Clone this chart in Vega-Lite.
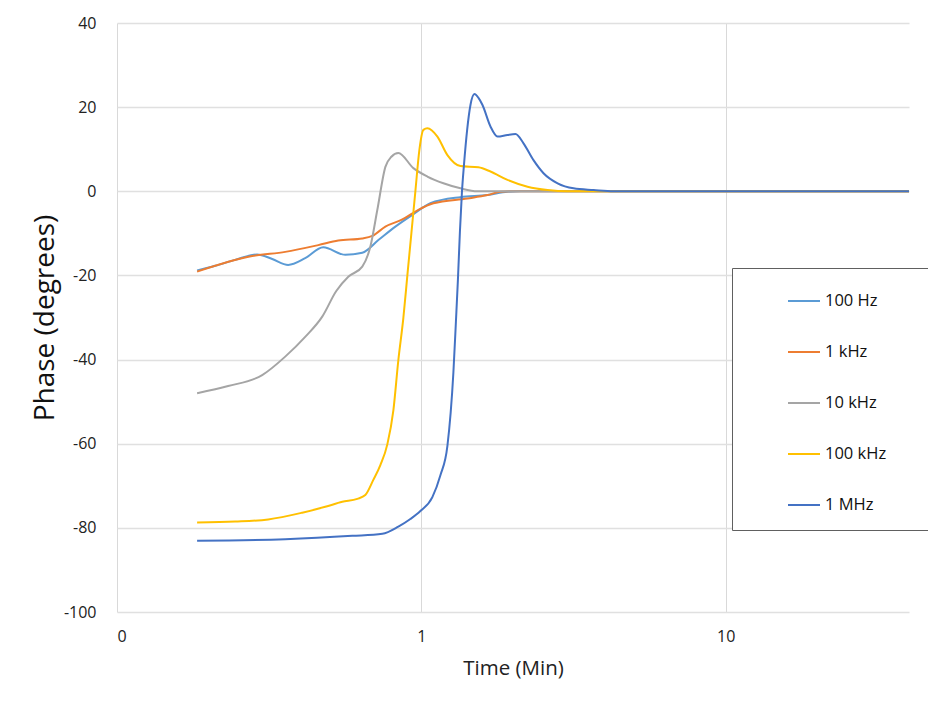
{
  "$schema": "https://vega.github.io/schema/vega-lite/v6.json",
  "width": 792,
  "height": 589,
  "autosize": {"type": "none"},
  "padding": {"left": 117, "top": 23, "right": 19, "bottom": 89},
  "background": "white",
  "config": {"view": {"stroke": null}, "font": "Open Sans"},
  "data": {"values": [
    {"f": "100 Hz", "t": 0.1833, "p": -18.8},
    {"f": "100 Hz", "t": 0.2101, "p": -17.7},
    {"f": "100 Hz", "t": 0.2445, "p": -16.3},
    {"f": "100 Hz", "t": 0.2887, "p": -15.0},
    {"f": "100 Hz", "t": 0.3236, "p": -16.1},
    {"f": "100 Hz", "t": 0.3651, "p": -17.5},
    {"f": "100 Hz", "t": 0.4152, "p": -15.9},
    {"f": "100 Hz", "t": 0.4760, "p": -13.3},
    {"f": "100 Hz", "t": 0.5623, "p": -15.1},
    {"f": "100 Hz", "t": 0.6395, "p": -14.6},
    {"f": "100 Hz", "t": 0.7222, "p": -11.6},
    {"f": "100 Hz", "t": 0.8214, "p": -8.4},
    {"f": "100 Hz", "t": 0.9341, "p": -5.6},
    {"f": "100 Hz", "t": 1.0705, "p": -2.85},
    {"f": "100 Hz", "t": 1.3438, "p": -1.4},
    {"f": "100 Hz", "t": 1.6489, "p": -0.9},
    {"f": "100 Hz", "t": 1.9183, "p": -0.1},
    {"f": "100 Hz", "t": 2.1168, "p": 0},
    {"f": "100 Hz", "t": 40, "p": 0},

    {"f": "1 kHz", "t": 0.1833, "p": -19.1},
    {"f": "1 kHz", "t": 0.2780, "p": -15.4},
    {"f": "1 kHz", "t": 0.3570, "p": -14.4},
    {"f": "1 kHz", "t": 0.4583, "p": -12.8},
    {"f": "1 kHz", "t": 0.5333, "p": -11.7},
    {"f": "1 kHz", "t": 0.6395, "p": -11.2},
    {"f": "1 kHz", "t": 0.6900, "p": -10.6},
    {"f": "1 kHz", "t": 0.7616, "p": -8.4},
    {"f": "1 kHz", "t": 0.8660, "p": -6.7},
    {"f": "1 kHz", "t": 0.9775, "p": -4.4},
    {"f": "1 kHz", "t": 1.0951, "p": -2.85},
    {"f": "1 kHz", "t": 1.4170, "p": -1.7},
    {"f": "1 kHz", "t": 1.6489, "p": -0.9},
    {"f": "1 kHz", "t": 1.8193, "p": -0.1},
    {"f": "1 kHz", "t": 1.9625, "p": 0},
    {"f": "1 kHz", "t": 40, "p": 0},

    {"f": "10 kHz", "t": 0.1833, "p": -48.0},
    {"f": "10 kHz", "t": 0.2318, "p": -46.3},
    {"f": "10 kHz", "t": 0.2999, "p": -43.7},
    {"f": "10 kHz", "t": 0.3570, "p": -39.3},
    {"f": "10 kHz", "t": 0.4152, "p": -34.6},
    {"f": "10 kHz", "t": 0.4724, "p": -29.8},
    {"f": "10 kHz", "t": 0.5253, "p": -23.7},
    {"f": "10 kHz", "t": 0.5753, "p": -20.3},
    {"f": "10 kHz", "t": 0.6395, "p": -17.9},
    {"f": "10 kHz", "t": 0.6796, "p": -13.2},
    {"f": "10 kHz", "t": 0.7167, "p": -4.4},
    {"f": "10 kHz", "t": 0.7616, "p": 5.8},
    {"f": "10 kHz", "t": 0.7971, "p": 8.2},
    {"f": "10 kHz", "t": 0.8402, "p": 9.1},
    {"f": "10 kHz", "t": 0.9412, "p": 5.5},
    {"f": "10 kHz", "t": 1.0465, "p": 3.5},
    {"f": "10 kHz", "t": 1.1814, "p": 1.9},
    {"f": "10 kHz", "t": 1.3438, "p": 0.7},
    {"f": "10 kHz", "t": 1.5286, "p": 0},
    {"f": "10 kHz", "t": 40, "p": 0},

    {"f": "100 kHz", "t": 0.1833, "p": -78.7},
    {"f": "100 kHz", "t": 0.2445, "p": -78.5},
    {"f": "100 kHz", "t": 0.3139, "p": -78.0},
    {"f": "100 kHz", "t": 0.4059, "p": -76.4},
    {"f": "100 kHz", "t": 0.4833, "p": -75.0},
    {"f": "100 kHz", "t": 0.5497, "p": -73.8},
    {"f": "100 kHz", "t": 0.6158, "p": -73.1},
    {"f": "100 kHz", "t": 0.6544, "p": -72.2},
    {"f": "100 kHz", "t": 0.6952, "p": -68.6},
    {"f": "100 kHz", "t": 0.7332, "p": -65.1},
    {"f": "100 kHz", "t": 0.7733, "p": -60.1},
    {"f": "100 kHz", "t": 0.8093, "p": -52.0},
    {"f": "100 kHz", "t": 0.8402, "p": -40.1},
    {"f": "100 kHz", "t": 0.8726, "p": -30.1},
    {"f": "100 kHz", "t": 0.8994, "p": -20.0},
    {"f": "100 kHz", "t": 0.9271, "p": -10.0},
    {"f": "100 kHz", "t": 0.9556, "p": 0},
    {"f": "100 kHz", "t": 0.9849, "p": 9.8},
    {"f": "100 kHz", "t": 1.0153, "p": 14.6},
    {"f": "100 kHz", "t": 1.0465, "p": 15.0},
    {"f": "100 kHz", "t": 1.1289, "p": 13.0},
    {"f": "100 kHz", "t": 1.2177, "p": 8.6},
    {"f": "100 kHz", "t": 1.3438, "p": 6.0},
    {"f": "100 kHz", "t": 1.5403, "p": 5.7},
    {"f": "100 kHz", "t": 1.6866, "p": 4.7},
    {"f": "100 kHz", "t": 1.9183, "p": 2.7},
    {"f": "100 kHz", "t": 2.2318, "p": 1.1},
    {"f": "100 kHz", "t": 2.5968, "p": 0.3},
    {"f": "100 kHz", "t": 3.0222, "p": 0},
    {"f": "100 kHz", "t": 40, "p": 0},

    {"f": "1 MHz", "t": 0.1833, "p": -83.05},
    {"f": "1 MHz", "t": 0.3570, "p": -82.7},
    {"f": "1 MHz", "t": 0.5929, "p": -81.9},
    {"f": "1 MHz", "t": 0.7445, "p": -81.4},
    {"f": "1 MHz", "t": 0.8402, "p": -79.7},
    {"f": "1 MHz", "t": 0.9202, "p": -77.9},
    {"f": "1 MHz", "t": 0.9924, "p": -76.0},
    {"f": "1 MHz", "t": 1.0868, "p": -72.7},
    {"f": "1 MHz", "t": 1.1548, "p": -67.5},
    {"f": "1 MHz", "t": 1.2177, "p": -60.5},
    {"f": "1 MHz", "t": 1.2742, "p": -43.0},
    {"f": "1 MHz", "t": 1.2986, "p": -31.0},
    {"f": "1 MHz", "t": 1.3185, "p": -21.0},
    {"f": "1 MHz", "t": 1.3387, "p": -9.5},
    {"f": "1 MHz", "t": 1.3591, "p": -0.2},
    {"f": "1 MHz", "t": 1.3800, "p": 6.2},
    {"f": "1 MHz", "t": 1.4138, "p": 14.6},
    {"f": "1 MHz", "t": 1.4497, "p": 20.5},
    {"f": "1 MHz", "t": 1.4942, "p": 23.1},
    {"f": "1 MHz", "t": 1.5403, "p": 22.2},
    {"f": "1 MHz", "t": 1.5878, "p": 20.5},
    {"f": "1 MHz", "t": 1.6866, "p": 15.4},
    {"f": "1 MHz", "t": 1.7783, "p": 13.0},
    {"f": "1 MHz", "t": 1.9183, "p": 13.4},
    {"f": "1 MHz", "t": 2.0381, "p": 13.6},
    {"f": "1 MHz", "t": 2.1652, "p": 11.4},
    {"f": "1 MHz", "t": 2.3354, "p": 7.4},
    {"f": "1 MHz", "t": 2.5193, "p": 4.3},
    {"f": "1 MHz", "t": 2.8027, "p": 1.9},
    {"f": "1 MHz", "t": 3.1623, "p": 0.7},
    {"f": "1 MHz", "t": 3.6800, "p": 0.3},
    {"f": "1 MHz", "t": 4.2812, "p": 0},
    {"f": "1 MHz", "t": 40, "p": 0}
  ]},
  "mark": {"type": "line", "interpolate": "monotone", "strokeWidth": 2},
  "encoding": {
    "x": {
      "field": "t", "type": "quantitative",
      "scale": {"type": "log", "domain": [0.1, 40], "nice": false},
      "axis": {
        "values": [0.1, 1, 10],
        "labelExpr": "datum.value < 1 ? '0' : toString(round(datum.value))",
        "title": "Time (Min)",
        "grid": true, "gridColor": "#d9d9d9", "gridWidth": 1,
        "domain": false, "ticks": false,
        "labelPadding": 16, "labelFontSize": 16, "labelColor": "#222",
        "titleFontSize": 20.5, "titleFontWeight": "normal", "titleColor": "#222",
        "titlePadding": 14
      }
    },
    "y": {
      "field": "p", "type": "quantitative",
      "scale": {"domain": [-100, 40], "nice": false},
      "axis": {
        "values": [-100, -80, -60, -40, -20, 0, 20, 40],
        "labelExpr": "toString(datum.value)",
        "title": "Phase (degrees)",
        "grid": true, "gridColor": "#e0e0e0", "gridWidth": 1.5,
        "domain": false, "ticks": false,
        "labelPadding": 21, "labelFontSize": 16, "labelColor": "#222",
        "titleFontSize": 28, "titleFontWeight": "normal", "titleColor": "#111",
        "titlePadding": 4
      }
    },
    "color": {
      "field": "f", "type": "nominal",
      "scale": {
        "domain": ["100 Hz", "1 kHz", "10 kHz", "100 kHz", "1 MHz"],
        "range": ["#5B9BD5", "#ED7D31", "#A5A5A5", "#FFC000", "#4472C4"]
      },
      "legend": {
        "title": null,
        "orient": "none", "legendX": 615, "legendY": 245,
        "direction": "vertical",
        "symbolType": "stroke", "symbolSize": 1024, "symbolStrokeWidth": 2,
        "labelFontSize": 16.5, "labelColor": "#111",
        "labelExpr": "datum.label + '\u2800\u2800\u2800'",
        "strokeColor": "#606060", "fillColor": "white",
        "padding": 16, "symbolOffset": 39, "labelOffset": 4, "rowPadding": 25
      }
    }
  }
}
